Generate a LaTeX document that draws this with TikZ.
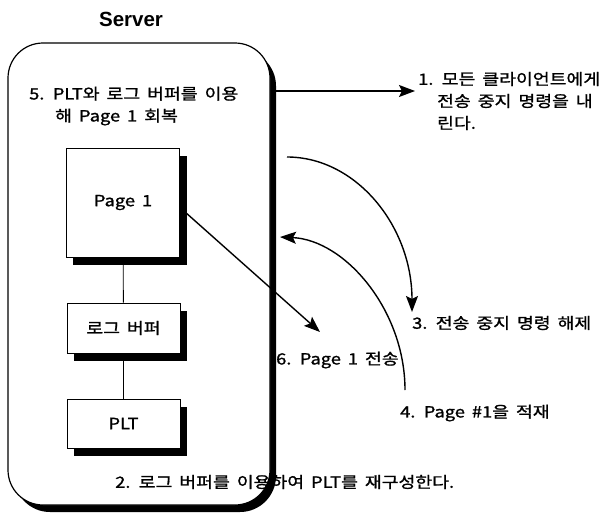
\documentclass[tikz,border=0pt]{standalone}
\usepackage{fontspec}
\setmainfont{Noto Sans CJK KR}[FakeStretch=1.18,WordSpace=1.7,FakeBold=1.2]
\newfontfamily\titlefont{Liberation Sans}
\usetikzlibrary{arrows.meta}

\begin{document}
\begin{tikzpicture}[x=1pt,y=-1pt,
	txt/.style={inner sep=0pt,anchor=west,align=left,font=\fontsize{15.5}{22}\selectfont},
	box/.style={draw,line width=0.9pt,fill=white,minimum width=113pt,font=\fontsize{15.5}{18}\selectfont},
	arr/.style={line width=1.4pt,-{Stealth[length=16pt,width=12pt,inset=3pt]}}]
	\useasboundingbox (0,0) rectangle (603,514);
	\node[font=\titlefont\bfseries\fontsize{20.5}{22}\selectfont] (title) at (131,19) {Server};
	% frame with its shadow
	\fill[black,rounded corners=36pt] (14,50) rectangle (276,512);
	\node[draw,line width=1.2pt,fill=white,rounded corners=35pt,minimum width=262pt,minimum height=462pt] (server) at (139,274) {};
	\node[txt] (recover) at (29,106) {5. PLT와 로그 버퍼를 이용\\\hspace*{26pt}해 Page 1 회복};
	% blocks in the server
	\node[box,minimum height=109pt] (page) at (123,202.5) {Page 1};
	\node[box,minimum height=50pt] (logbuf) at (123.5,328) {로그 버퍼};
	\node[box,minimum height=49pt] (plt) at (123.5,423.5) {PLT};
	\foreach \b in {page,logbuf,plt}{
		\fill[black] ([yshift=-8pt]\b.north east) rectangle ([shift={(7pt,-8pt)}]\b.south east);
		\fill[black] ([xshift=7pt]\b.south west) rectangle ([shift={(7pt,-8pt)}]\b.south east);
	}
	\draw[line width=0.8pt] (page) -- (logbuf);
	\draw[line width=0.8pt] (logbuf) -- (plt);
	% steps
	\node[txt] (stop) at (418,101) {1. 모든 클라이언트에게\\\hspace*{19pt}전송 중지 명령을 내\\\hspace*{19pt}린다.};
	\node[txt] (rebuild) at (115,482) {2. 로그 버퍼를 이용하여 PLT를 재구성한다.};
	\node[txt] (resume) at (412,323) {3. 전송 중지 명령 해제};
	\node[txt] (load) at (400,413) {4. Page \#1을 적재};
	\node[txt] (send) at (276,360) {6. Page 1 전송};
	\coordinate (a1) at (415,91);
	\coordinate (a3s) at (287,157);
	\coordinate (a3e) at (412,312);
	\coordinate (a4s) at (405,390);
	\coordinate (a4e) at (280,237);
	\coordinate (a6) at (320,332);
	\draw[arr] (server.east |- a1) -- (a1);
	\draw[arr] (a3s) .. controls (356,157) and (412,226) .. (a3e);
	\draw[arr] (a4s) .. controls (405,310) and (345,240) .. (a4e);
	\draw[arr] ([yshift=-5pt]page.east) -- (a6);
\end{tikzpicture}
\end{document}
